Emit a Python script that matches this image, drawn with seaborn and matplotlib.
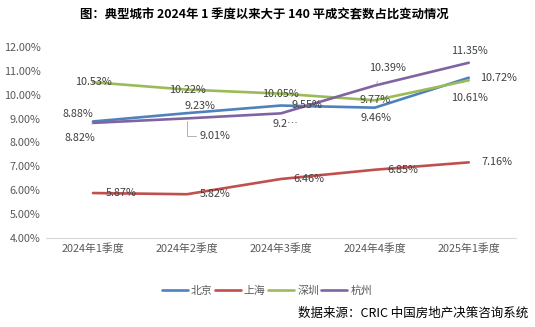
import matplotlib
matplotlib.use("Agg")
import matplotlib.pyplot as plt
import seaborn as sns
import pandas as pd

quarters = ["2024年1季度", "2024年2季度", "2024年3季度", "2024年4季度", "2025年1季度"]
cities = ["北京", "上海", "深圳", "杭州"]
beijing = [8.88, 9.23, 9.55, 9.46, 10.72]
shanghai = [5.87, 5.82, 6.46, 6.85, 7.16]
shenzhen = [10.53, 10.22, 10.05, 9.77, 10.61]
hangzhou = [8.82, 9.01, 9.22, 10.39, 11.35]
yticks = [4, 5, 6, 7, 8, 9, 10, 11, 12]

colors = {"北京": "#4F81BD", "上海": "#C0504D", "深圳": "#9BBB59", "杭州": "#8064A2"}

series = dict(zip(cities, [beijing, shanghai, shenzhen, hangzhou]))
df = pd.DataFrame(
    [(q, i, c, v / 100) for c, vals in series.items() for i, (q, v) in enumerate(zip(quarters, vals))],
    columns=["quarter", "pos", "city", "share"],
)

sns.set_theme(style="white")
plt.rcParams["font.family"] = ["Noto Sans CJK SC", "DejaVu Sans"]

fig = plt.figure(figsize=(5.35, 3.27), dpi=100)
ax = fig.add_axes([0.086, 0.2737, 0.878, 0.5817])

sns.lineplot(data=df, x="pos", y="share", hue="city", hue_order=cities,
             palette=colors, linewidth=1.9, ax=ax, legend=True)

ax.set_xlim(-0.5, 4.5)
ax.set_ylim(0.04, 0.12)
ax.set_xticks(range(len(quarters)))
ax.set_xticklabels(quarters)
ax.set_yticks([t / 100 for t in yticks])
ax.set_yticklabels([f"{t:.2f}%" for t in yticks])
ax.set_xlabel("")
ax.set_ylabel("")
ax.tick_params(axis="both", labelsize=7.8, colors="#595959", length=0, pad=4)
for s in ["top", "right", "left"]:
    ax.spines[s].set_visible(False)
ax.spines["bottom"].set_color("#D9D9D9")
ax.spines["bottom"].set_linewidth(0.8)

# data labels: offsets in pixels (dx, dy), optional leader line
px = 0.72
offsets = {
    "北京": [(-15, 7), (13, 7), (26, 1), (1, -10), (30, 0)],
    "上海": [(28, 0)] * 5,
    "深圳": [(0, 0), (0, 0), (0, 0), (0, 0), (1, -18)],
    "杭州": [(-13, -15), (28, -18), (5, -11), (13, 18), (1, 12)],
}
leaders = {("深圳", 4): "straight", ("杭州", 0): "straight",
           ("杭州", 1): "elbow", ("杭州", 3): "straight"}
overrides = {("杭州", 2): "9.2…"}

for c in cities:
    for i, v in enumerate(series[c]):
        dx, dy = offsets[c][i]
        text = overrides.get((c, i), f"{v:.2f}%")
        kind = leaders.get((c, i))
        arrow = None
        if kind == "straight":
            arrow = dict(arrowstyle="-", color="#A6A6A6", lw=0.6, shrinkA=5, shrinkB=2)
        elif kind == "elbow":
            arrow = dict(arrowstyle="-", color="#A6A6A6", lw=0.6, shrinkA=16, shrinkB=2,
                         connectionstyle="angle,angleA=0,angleB=90,rad=0")
        ax.annotate(text, xy=(i, v / 100), xytext=(dx * px, dy * px),
                    textcoords="offset points", ha="center", va="center",
                    fontsize=7.8, color="#404040", arrowprops=arrow, zorder=5)

handles, labels = ax.get_legend_handles_labels()
ax.legend(handles, labels, loc="center", bbox_to_anchor=(0.47, -0.28), ncol=4,
          frameon=False, fontsize=7.8, handlelength=2.4, handletextpad=0.3,
          columnspacing=0.2, labelcolor="#595959")

fig.text(0.495, 0.954, "图：典型城市 2024年 1 季度以来大于 140 平成交套数占比变动情况",
         ha="center", va="center", fontsize=8.9, fontweight="bold", color="black")
fig.text(0.988, 0.043, "数据来源：CRIC 中国房地产决策咨询系统",
         ha="right", va="center", fontsize=9.0, color="black")

fig.savefig("out.png", dpi=100)
